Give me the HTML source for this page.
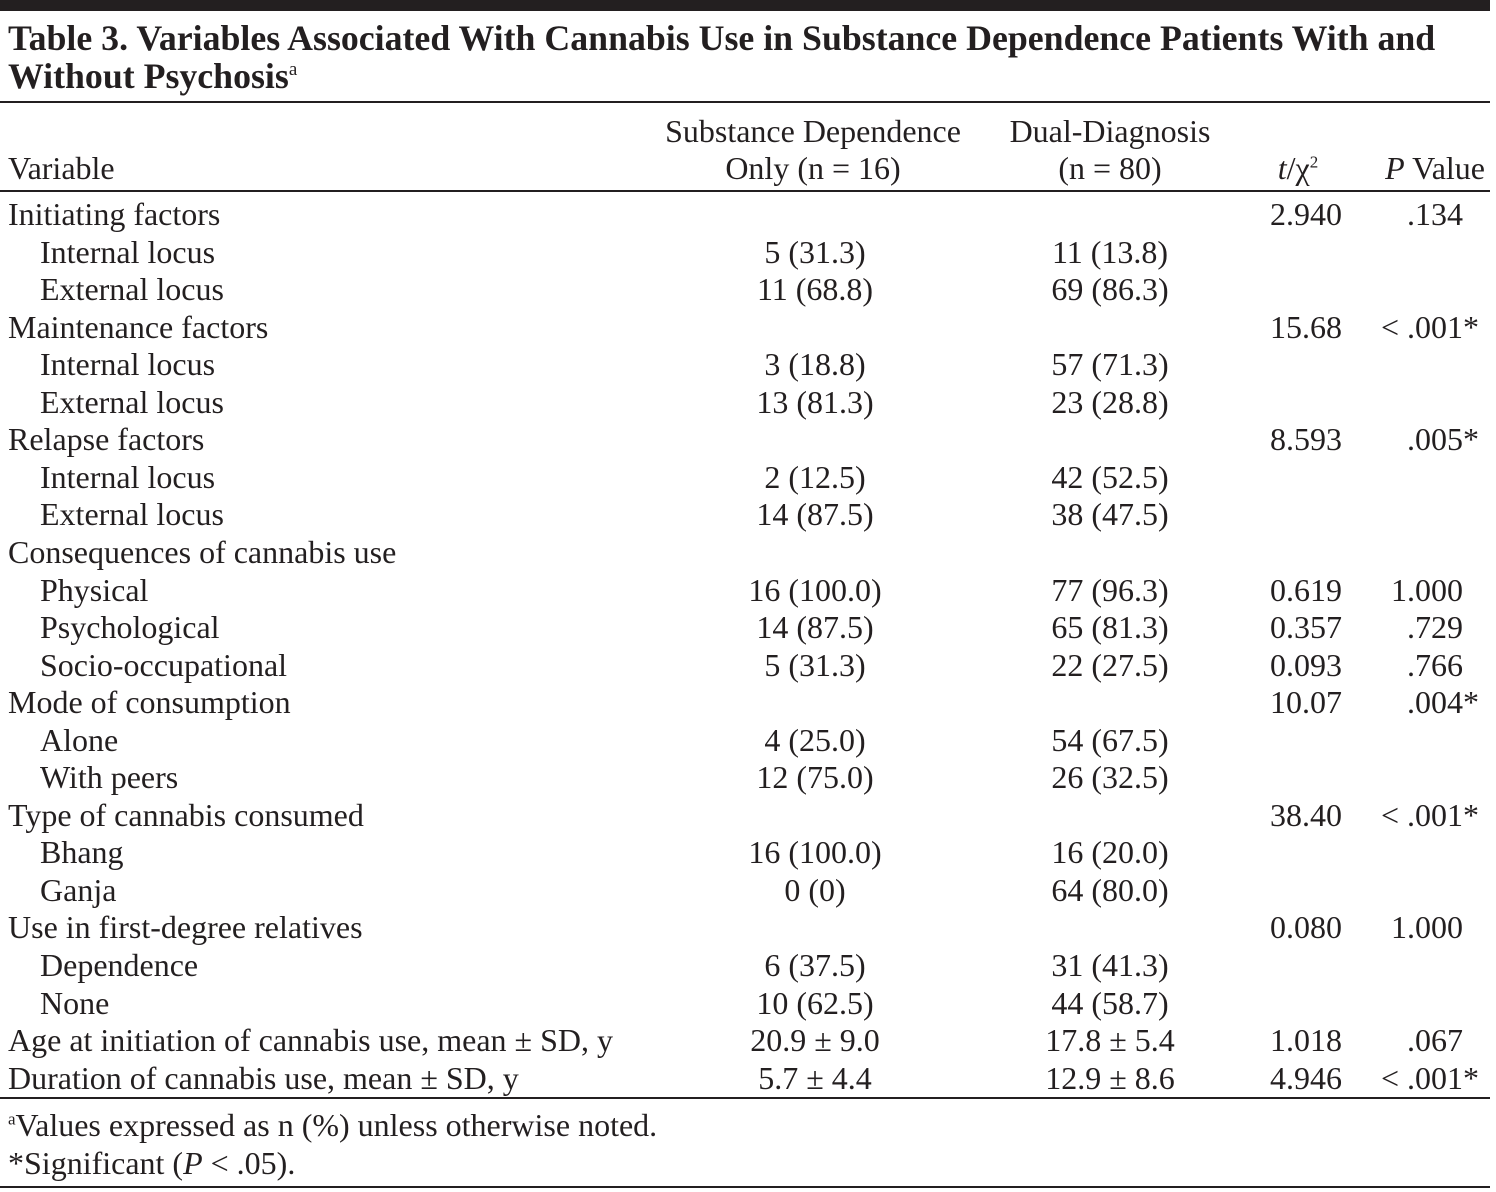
<!DOCTYPE html>
<html><head><meta charset="utf-8"><style>
body{margin:0;width:1496px;height:1192px;background:#fff;position:relative;overflow:hidden;font-family:"Liberation Serif",serif;color:#231f20}
.t{position:absolute;white-space:nowrap;font-size:32px;line-height:1}
.c{transform:translateX(-50%)}
.r{transform:translateX(-100%)}
.rule{position:absolute;left:0;width:1490px;background:#231f20}
.title{position:absolute;left:8px;font-weight:bold;font-size:35.8px;white-space:nowrap;line-height:1}
</style></head><body>
<div class="rule" style="top:0;height:11px"></div>
<div class="title" style="top:21px">Table 3. Variables Associated With Cannabis Use in Substance Dependence Patients With and</div>
<div class="title" style="top:59px">Without Psychosis<sup style="font-size:19px;font-weight:normal">a</sup></div>
<div class="rule" style="top:101px;height:2px"></div>
<div class="t" style="left:8px;top:152px">Variable</div>
<div class="t c" style="left:813px;top:115px">Substance Dependence</div>
<div class="t c" style="left:813px;top:152px">Only (n = 16)</div>
<div class="t c" style="left:1110px;top:115px">Dual-Diagnosis</div>
<div class="t c" style="left:1110px;top:152px">(n = 80)</div>
<div class="t c" style="left:1298px;top:152px"><i>t</i>/χ<sup style="font-size:17px">2</sup></div>
<div class="t r" style="left:1485px;top:152px"><i>P</i> Value</div>
<div class="rule" style="top:190px;height:2px"></div>
<div id="rows"></div>
<div class="rule" style="top:1097px;height:2px"></div>
<div class="t" style="left:8px;top:1109px"><sup style="font-size:17px">a</sup>Values expressed as n (%) unless otherwise noted.</div>
<div class="t" style="left:8px;top:1147px">*Significant (<i>P</i> &lt; .05).</div>
<div class="rule" style="top:1186px;height:2px"></div>
<script>
const labels=["Initiating factors","Internal locus","External locus","Maintenance factors","Internal locus","External locus","Relapse factors","Internal locus","External locus","Consequences of cannabis use","Physical","Psychological","Socio-occupational","Mode of consumption","Alone","With peers","Type of cannabis consumed","Bhang","Ganja","Use in first-degree relatives","Dependence","None","Age at initiation of cannabis use, mean ± SD, y","Duration of cannabis use, mean ± SD, y"];
const indent=[0,1,1,0,1,1,0,1,1,0,1,1,1,0,1,1,0,1,1,0,1,1,0,0];
const subst=["","5 (31.3)","11 (68.8)","","3 (18.8)","13 (81.3)","","2 (12.5)","14 (87.5)","","16 (100.0)","14 (87.5)","5 (31.3)","","4 (25.0)","12 (75.0)","","16 (100.0)","0 (0)","","6 (37.5)","10 (62.5)","20.9 ± 9.0","5.7 ± 4.4"];
const dual=["","11 (13.8)","69 (86.3)","","57 (71.3)","23 (28.8)","","42 (52.5)","38 (47.5)","","77 (96.3)","65 (81.3)","22 (27.5)","","54 (67.5)","26 (32.5)","","16 (20.0)","64 (80.0)","","31 (41.3)","44 (58.7)","17.8 ± 5.4","12.9 ± 8.6"];
const stat=["2.940","","","15.68","","","8.593","","","","0.619","0.357","0.093","10.07","","","38.40","","","0.080","","","1.018","4.946"];
const pval=[".134","","","< .001*","","",".005*","","","","1.000",".729",".766",".004*","","","< .001*","","","1.000","","",".067","< .001*"];
const host=document.getElementById('rows');
function add(txt,cls,left,top,name){
  if(!txt)return;
  const d=document.createElement('div');
  d.className='t '+cls;d.style.left=left+'px';d.style.top=top+'px';d.textContent=txt;
  
  
  host.appendChild(d);
}
labels.forEach((l,i)=>{
  const y=198+i*37.55;
  add(l,'',indent[i]?40:8,y,'row-label');
  add(subst[i],'c',815,y,'substance-value');
  add(dual[i],'c',1110,y,'dual-value');
  add(stat[i],'r',1342,y,'stat-value');
  let p=pval[i];
  if(p){const star=p.endsWith('*');add(star?p.slice(0,-1):p,'r',1463,y,'p-value');
    if(star)add('*','',1463,y,'significance-mark');}
});
</script>
</body></html>
